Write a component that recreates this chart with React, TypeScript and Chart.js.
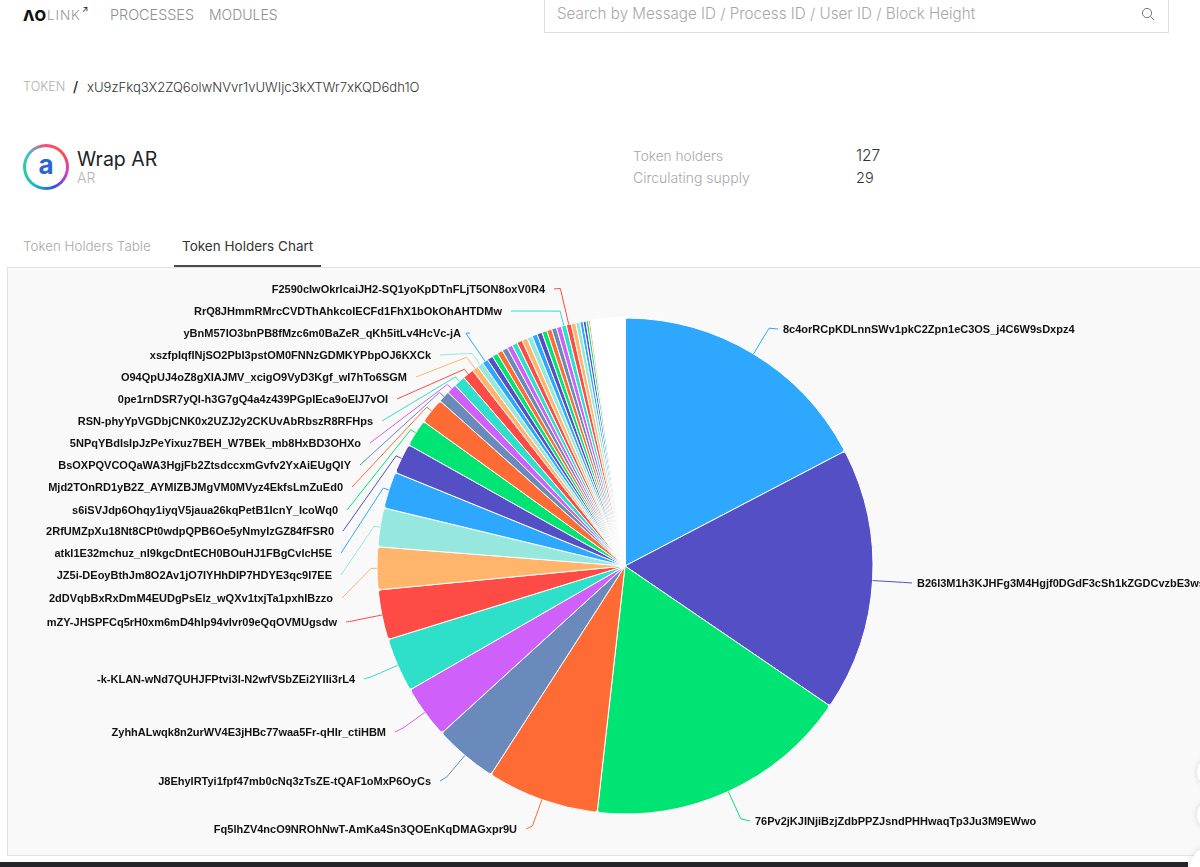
import React, { useEffect, useRef } from "react";
import { Chart, registerables } from "chart.js";

Chart.register(...registerables);

// Share of supply per holder, in chart order (clockwise from 12 o'clock)
const holderShares = [
  62.4, 61.9, 62.1, 26.3, 14.9, 12.4, 12.7, 11.7, 10.0, 9.1,
  8.6, 7.1, 6.4, 6.1, 2.7, 2.3, 2.7, 2.6, 1.47, 1.42,
  1.37, 1.37, 1.32, 1.32, 1.32, 1.27, 1.27, 1.27, 1.27, 1.27,
  1.22, 1.22, 1.17, 1.17, 1.17, 1.17, 1.17, 1.17, 1.07, 0.97,
  0.77, 0.67, 0.57, 0.47,
  0.2, 0.2, 0.2, 0.2, 0.2, 0.2, 0.2, 0.2, 0.2, 0.2,
  0.2, 0.2, 0.2, 0.2, 0.2, 0.2, 0.2, 0.2, 0.2, 0.2,
  0.1, 0.1, 0.1, 0.1, 0.1, 0.1, 0.1, 0.1, 0.1, 0.1,
  0.1, 0.1, 0.1, 0.1, 0.1, 0.1, 0.1, 0.1, 0.1, 0.1,
  0.06, 0.06, 0.06, 0.06, 0.06, 0.06, 0.06, 0.06, 0.06, 0.06,
  0.06, 0.06, 0.06, 0.06, 0.06, 0.06, 0.06, 0.06, 0.06, 0.06,
  0.035, 0.035, 0.035, 0.035, 0.035, 0.035, 0.035, 0.035, 0.035, 0.035,
  0.035, 0.035, 0.035, 0.035, 0.035, 0.035, 0.035, 0.035, 0.035, 0.035,
  0.035, 0.035, 0.035,
];

const paletteCycle = [
  "#2ea8ff", "#544fc5", "#00e473", "#ff6b35", "#6b8abc",
  "#cf61fa", "#2ee0c9", "#ff4b45", "#ffb56b", "#96e7de",
];

// Labelled holders and which slice (0-based) each belongs to
const labelledNames = [
  "8c4orRCpKDLnnSWv1pkC2Zpn1eC3OS_j4C6W9sDxpz4",
  "B26l3M1h3KJHFg3M4Hgjf0DGdF3cSh1kZGDCvzbE3ws",
  "76Pv2jKJINjiBzjZdbPPZJsndPHHwaqTp3Ju3M9EWwo",
  "Fq5lhZV4ncO9NROhNwT-AmKa4Sn3QOEnKqDMAGxpr9U",
  "J8EhyIRTyi1fpf47mb0cNq3zTsZE-tQAF1oMxP6OyCs",
  "ZyhhALwqk8n2urWV4E3jHBc77waa5Fr-qHIr_ctiHBM",
  "-k-KLAN-wNd7QUHJFPtvi3I-N2wfVSbZEi2YIIi3rL4",
  "mZY-JHSPFCq5rH0xm6mD4hIp94vIvr09eQqOVMUgsdw",
  "2dDVqbBxRxDmM4EUDgPsElz_wQXv1txjTa1pxhIBzzo",
  "JZ5i-DEoyBthJm8O2Av1jO7IYHhDIP7HDYE3qc9I7EE",
  "atkI1E32mchuz_nI9kgcDntECH0BOuHJ1FBgCvIcH5E",
  "2RfUMZpXu18Nt8CPt0wdpQPB6Oe5yNmyIzGZ84fFSR0",
  "s6iSVJdp6Ohqy1iyqV5jaua26kqPetB1IcnY_IcoWq0",
  "Mjd2TOnRD1yB2Z_AYMIZBJMgVM0MVyz4EkfsLmZuEd0",
  "BsOXPQVCOQaWA3HgjFb2ZtsdccxmGvfv2YxAiEUgQIY",
  "5NPqYBdIsIpJzPeYixuz7BEH_W7BEk_mb8HxBD3OHXo",
  "RSN-phyYpVGDbjCNK0x2UZJ2y2CKUvAbRbszR8RFHps",
  "0pe1rnDSR7yQI-h3G7gQ4a4z439PGpIEca9oEIJ7vOI",
  "O94QpUJ4oZ8gXIAJMV_xcigO9VyD3Kgf_wI7hTo6SGM",
  "xszfpIqfINjSO2PbI3pstOM0FNNzGDMKYPbpOJ6KXCk",
  "yBnM57IO3bnPB8fMzc6m0BaZeR_qKh5itLv4HcVc-jA",
  "RrQ8JHmmRMrcCVDThAhkcoIECFd1FhX1bOkOhAHTDMw",
  "F2590cIwOkrIcaiJH2-SQ1yoKpDTnFLjT5ON8oxV0R4",
];
const labelledSlices = [0, 1, 2, 3, 4, 5, 6, 7, 8, 9, 10, 11, 12, 13, 14, 15, 16, 17, 18, 19, 20, 36, 37];

// Label layout, kept apart from the data (page coordinates of the text's near end)
const labelTextX = [783, 917, 755, 517, 431, 386, 355, 337, 333, 332, 332, 334, 338, 343, 351, 361, 373, 388, 407, 431, 461, 502, 545];
const labelTextY = [329, 583, 821, 829, 781, 732, 679, 622, 598, 575, 553, 531, 510, 487, 465, 443, 421, 399, 377, 355, 333, 311, 289];
const leaderRadial = [30, 30, 30, 28, 28, 26, 28, 33, 6, 6, 6, 6, 6, 6, 6, 6, 6, 6, 14, 14, 34, 15, 37];
const CANVAS_LEFT = 8;
const CANVAS_TOP = 268;
const CANVAS_W = 1192;
const CANVAS_H = 587;

const txt = (x: number, y: number, size: number, color: string, extra: any = {}) =>
  ({
    position: "absolute",
    left: x,
    top: y - size,
    lineHeight: `${size * 2}px`,
    fontSize: size,
    color,
    whiteSpace: "nowrap",
    fontFamily: "Inter, 'Noto Sans', sans-serif",
    fontWeight: 300,
    ...extra,
  }) as React.CSSProperties;

const leaderPlugin = {
  id: "holderLeaders",
  afterDatasetsDraw(chart: any) {
    const arcs = chart.getDatasetMeta(0).data;
    const c = chart.ctx;
    c.save();
    c.font = "bold 11px 'Liberation Sans'";
    c.textBaseline = "middle";
    labelledNames.forEach((name, i) => {
      const idx = labelledSlices[i];
      const a = arcs[idx].getProps(["startAngle", "endAngle", "outerRadius", "x", "y"], true);
      const mid = (a.startAngle + a.endAngle) / 2;
      const px = a.x + Math.cos(mid) * a.outerRadius;
      const py = a.y + Math.sin(mid) * a.outerRadius;
      const ex = a.x + Math.cos(mid) * (a.outerRadius + leaderRadial[i]);
      const ey = a.y + Math.sin(mid) * (a.outerRadius + leaderRadial[i]);
      const isRight = Math.cos(mid) > 0;
      const tx = labelTextX[i] - CANVAS_LEFT;
      const ty = labelTextY[i] - CANVAS_TOP;
      const gap = isRight ? 5 : 9;
      c.strokeStyle = paletteCycle[idx % paletteCycle.length];
      c.lineWidth = 1;
      c.beginPath();
      c.moveTo(px, py);
      c.lineTo(ex, ey);
      c.lineTo(isRight ? tx - gap : tx + gap, ty);
      c.stroke();
      c.fillStyle = "#111";
      c.textAlign = isRight ? "left" : "right";
      c.fillText(name, tx, ty + 1);
    });
    c.restore();
  },
};

export default function App() {
  const ref = useRef<HTMLCanvasElement>(null);
  useEffect(() => {
    document.body.style.margin = "0";
    document.body.style.overflow = "hidden";
    const chart = new Chart(ref.current!, {
      type: "pie",
      data: {
        labels: holderShares.map((_, i) => {
          const k = labelledSlices.indexOf(i);
          return k >= 0 ? labelledNames[k] : "";
        }),
        datasets: [
          {
            data: holderShares,
            backgroundColor: holderShares.map((_, i) => paletteCycle[i % paletteCycle.length]),
            borderColor: "#ffffff",
            borderWidth: (ctx: any) => (ctx.dataIndex >= 44 ? 2 : 1),
            borderRadius: (ctx: any) =>
              ctx.dataIndex < 14
                ? { outerStart: 3, outerEnd: 3, innerStart: 0, innerEnd: 0 }
                : 0,
          },
        ],
      },
      options: {
        responsive: false,
        animation: false,
        devicePixelRatio: 1,
        events: [],
        layout: { padding: { left: 368, right: 326, top: 49, bottom: 40 } },
        plugins: { legend: { display: false }, tooltip: { enabled: false } },
      } as any,
      plugins: [leaderPlugin],
    } as any);
    return () => chart.destroy();
  }, []);

  return (
    <div style={{ position: "fixed", left: 0, top: 0, width: 1200, height: 867, overflow: "hidden", background: "#fff" }}>
      {/* Top navigation */}
      <div style={txt(23, 16, 15, "#111", { fontWeight: 800 })}>ΛO</div>
      <div style={txt(47, 15, 13.5, "#9a9a9a", { letterSpacing: 0.9 })}>LINK</div>
      <div style={txt(82, 9, 8, "#222", { fontWeight: 500 })}>↗</div>
      <div style={txt(110, 15, 14.4, "#8f8f8f")}>PROCESSES</div>
      <div style={txt(209, 15, 14, "#8f8f8f")}>MODULES</div>
      <div style={{ position: "absolute", left: 544, top: -2, width: 625, height: 35, border: "1px solid #dedede", boxSizing: "border-box" }} />
      <div style={txt(557, 14.5, 15.2, "#a8a8a8")}>Search by Message ID / Process ID / User ID / Block Height</div>
      <svg style={{ position: "absolute", left: 1141, top: 7 }} width="14" height="14" viewBox="0 0 14 14" fill="none" stroke="#777" strokeWidth="1">
        <circle cx="6" cy="6" r="4.6" />
        <line x1="9.5" y1="9.5" x2="13" y2="13" />
      </svg>

      {/* Breadcrumb */}
      <div style={txt(23, 87, 12.6, "#b0b0b0")}>TOKEN</div>
      <div style={txt(73, 87, 14, "#222", { fontWeight: 500 })}>/</div>
      <div style={txt(87, 87, 13.1, "#333")}>xU9zFkq3X2ZQ6olwNVvr1vUWIjc3kXTWr7xKQD6dh1O</div>

      {/* Token heading */}
      <div
        style={{
          position: "absolute",
          left: 23,
          top: 144,
          width: 46,
          height: 46,
          borderRadius: "50%",
          background: "conic-gradient(#ff4b6e 0deg, #ff4b45 50deg, #c93fd0 110deg, #2d55e0 160deg, #18b5d0 210deg, #1fd68c 260deg, #4ab8d0 310deg, #ff4b6e 360deg)",
        }}
      >
        <div
          style={{
            position: "absolute",
            left: 3,
            top: 3,
            width: 40,
            height: 40,
            borderRadius: "50%",
            background: "#fff",
            textAlign: "center",
            lineHeight: "36px",
            fontFamily: "Inter, sans-serif",
            fontWeight: 700,
            fontSize: 26,
            color: "#2a62d8",
          }}
        >
          a
        </div>
      </div>
      <div style={txt(77, 159, 19.5, "#222", { fontWeight: 400 })}>Wrap AR</div>
      <div style={txt(77, 178, 14, "#b5b5b5")}>AR</div>

      <div style={txt(633, 157, 13.7, "#a8a8a8")}>Token holders</div>
      <div style={txt(633, 178, 14, "#a8a8a8")}>Circulating supply</div>
      <div style={txt(856, 155, 15.5, "#333")}>127</div>
      <div style={txt(856, 177, 14.5, "#333")}>29</div>

      {/* Tabs */}
      <div style={txt(23, 246, 13.4, "#a8a8a8")}>Token Holders Table</div>
      <div style={txt(182, 246, 13.5, "#333", { fontWeight: 400 })}>Token Holders Chart</div>
      <div style={{ position: "absolute", left: 174, top: 265, width: 147, height: 2, background: "#4a4a4a" }} />

      {/* Chart panel */}
      <div style={{ position: "absolute", left: 7, top: 267, width: 1200, height: 589, border: "1px solid #e3e3e3", background: "#f9f9f9", boxSizing: "border-box" }} />
      <canvas ref={ref} width={CANVAS_W} height={CANVAS_H} style={{ position: "absolute", left: CANVAS_LEFT, top: CANVAS_TOP, display: "block" }} />

      {/* Bottom bar and floating buttons */}
      <div style={{ position: "absolute", left: 0, top: 862, width: 1188, height: 5, background: "#24242a" }} />
      <div style={{ position: "absolute", left: 1197, top: 757, width: 30, height: 30, borderRadius: "50%", background: "#fff", boxShadow: "0 0 6px rgba(0,0,0,0.15)" }} />
      <div style={{ position: "absolute", left: 1197, top: 800, width: 30, height: 30, borderRadius: "50%", background: "#fff", boxShadow: "0 0 6px rgba(0,0,0,0.15)" }} />
      <div style={{ position: "absolute", left: 1190, top: 846, width: 44, height: 44, borderRadius: "50%", background: "#fff", boxShadow: "0 0 6px rgba(0,0,0,0.12)" }} />
    </div>
  );
}
